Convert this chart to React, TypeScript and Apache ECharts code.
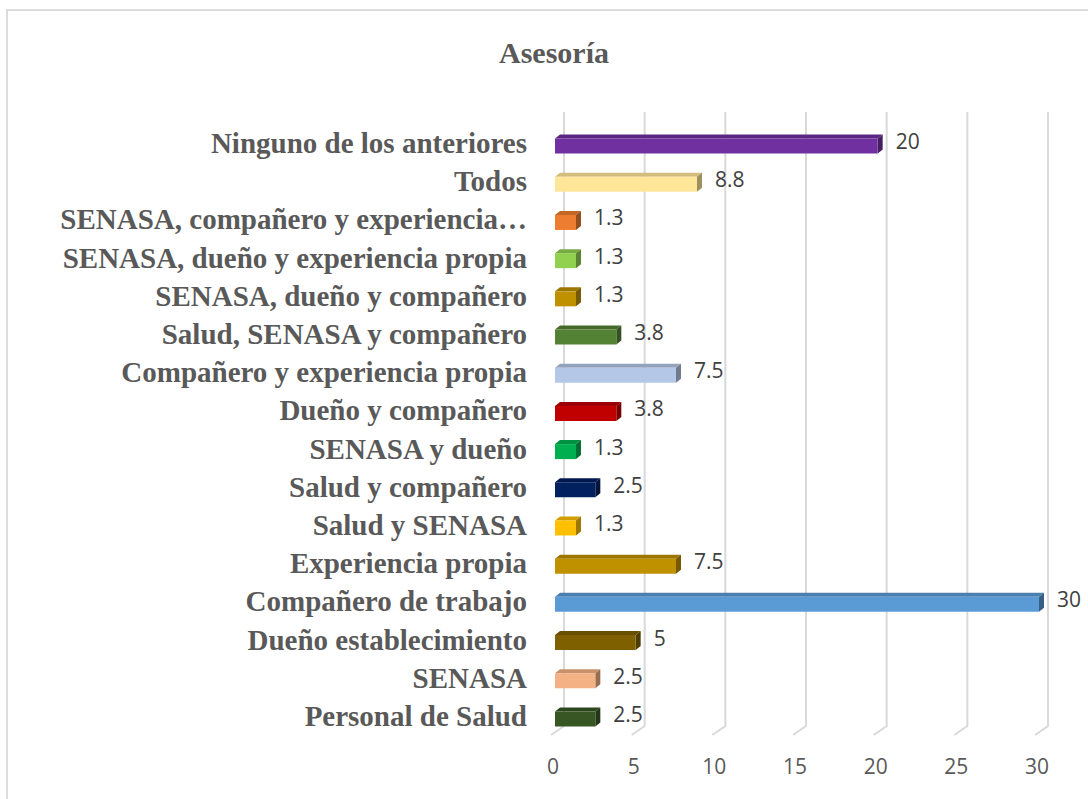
import React, { useEffect, useRef } from "react";
import * as echarts from "echarts";

const categories = [
  "Personal de Salud",
  "SENASA",
  "Dueño establecimiento",
  "Compañero de trabajo",
  "Experiencia propia",
  "Salud y SENASA",
  "Salud y compañero",
  "SENASA y dueño",
  "Dueño y compañero",
  "Compañero y experiencia propia",
  "Salud, SENASA y compañero",
  "SENASA, dueño y compañero",
  "SENASA, dueño y experiencia propia",
  "SENASA, compañero y experiencia…",
  "Todos",
  "Ninguno de los anteriores",
];
const values = [2.5, 2.5, 5, 30, 7.5, 1.3, 2.5, 1.3, 3.8, 7.5, 3.8, 1.3, 1.3, 1.3, 8.8, 20];
const barColors = [
  "#375623", "#F4B183", "#7F6000", "#5B9BD5", "#BF9000", "#FFC000", "#002060", "#00B050",
  "#C00000", "#B4C7E7", "#548235", "#BF9000", "#92D050", "#ED7D31", "#FFE699", "#7030A0",
];
const xTicks = [0, 5, 10, 15, 20, 25, 30];

function shade(hex: string, f: number) {
  const n = parseInt(hex.slice(1), 16);
  const r = Math.round(((n >> 16) & 255) * f);
  const g = Math.round(((n >> 8) & 255) * f);
  const b = Math.round((n & 255) * f);
  return `rgb(${r},${g},${b})`;
}

export default function App() {
  const ref = useRef<HTMLDivElement>(null);
  useEffect(() => {
    document.body.style.margin = "0";
    const chart = echarts.init(ref.current!, null, { renderer: "svg" });
    const DX = 5, DY = -4, H = 15;
    chart.setOption({
      animation: false,
      backgroundColor: "#ffffff",
      grid: { left: 553, right: 51, top: 124, bottom: 64, containLabel: false },
      xAxis: {
        type: "value",
        min: 0,
        max: 30,
        interval: 5,
        splitLine: { show: false },
        axisLine: { show: false },
        axisTick: { show: false },
        axisLabel: { color: "#595959", fontFamily: "Open Sans", fontSize: 21, margin: 20 },
      },
      yAxis: {
        type: "category",
        data: categories,
        axisLine: { show: false },
        axisTick: { show: false },
        axisLabel: {
          interval: 0,
          color: "#595959",
          fontFamily: "Liberation Serif",
          fontWeight: "bold",
          fontSize: 29,
          margin: 26,
        },
      },
      graphic: [
        {
          type: "rect",
          shape: { x: 7, y: 10, width: 1100, height: 820 },
          style: { fill: "none", stroke: "#dcdcdc", lineWidth: 2 },
          silent: true,
        },
        {
          type: "text",
          x: 554,
          y: 52,
          style: {
            text: "Asesoría",
            fill: "#595959",
            font: "bold 30px 'Liberation Serif'",
            textAlign: "center",
            textVerticalAlign: "middle",
          },
        },
      ],
      series: [
        {
          type: "custom",
          z: 1,
          silent: true,
          data: xTicks.map((t) => [t]),
          renderItem: (params: any, api: any) => {
            const t = api.value(0);
            const p = api.coord([t, 0]);
            const cs = params.coordSys;
            const bottom = cs.y + cs.height;
            const x = p[0];
            return {
              type: "polyline",
              shape: {
                points: [
                  [x - 2, bottom],
                  [x + 11, bottom - 9],
                  [x + 11, cs.y - 12],
                ],
              },
              style: { stroke: "#d9d9d9", lineWidth: 2, fill: "none" },
            };
          },
        },
        {
          type: "custom",
          z: 3,
          data: values.map((v, i) => [v, i]),
          renderItem: (params: any, api: any) => {
            const v = api.value(0);
            const i = api.value(1);
            const color = barColors[i];
            const p0 = api.coord([0, i]);
            const p1 = api.coord([v, i]);
            const x0 = p0[0] + 2;
            const x1 = p1[0] + 2;
            const yc = p0[1] + 3;
            const top = yc - H / 2;
            const bottom = yc + H / 2;
            return {
              type: "group",
              children: [
                {
                  type: "polygon",
                  shape: {
                    points: [
                      [x0, top],
                      [x1, top],
                      [x1 + DX, top + DY],
                      [x0 + DX, top + DY],
                    ],
                  },
                  style: { fill: shade(color, 0.82) },
                },
                {
                  type: "polygon",
                  shape: {
                    points: [
                      [x1, top],
                      [x1 + DX, top + DY],
                      [x1 + DX, bottom + DY],
                      [x1, bottom],
                    ],
                  },
                  style: { fill: shade(color, 0.62) },
                },
                {
                  type: "rect",
                  shape: { x: x0, y: top, width: x1 - x0, height: H },
                  style: { fill: color },
                },
                {
                  type: "text",
                  x: x1 + DX + 13,
                  y: p0[1] - 2,
                  style: {
                    text: String(v),
                    fill: "#404040",
                    font: "21px 'Open Sans'",
                    textAlign: "left",
                    textVerticalAlign: "middle",
                  },
                },
              ],
            };
          },
        },
      ],
    });
    return () => chart.dispose();
  }, []);
  return <div ref={ref} style={{ width: 1088, height: 799 }} />;
}
